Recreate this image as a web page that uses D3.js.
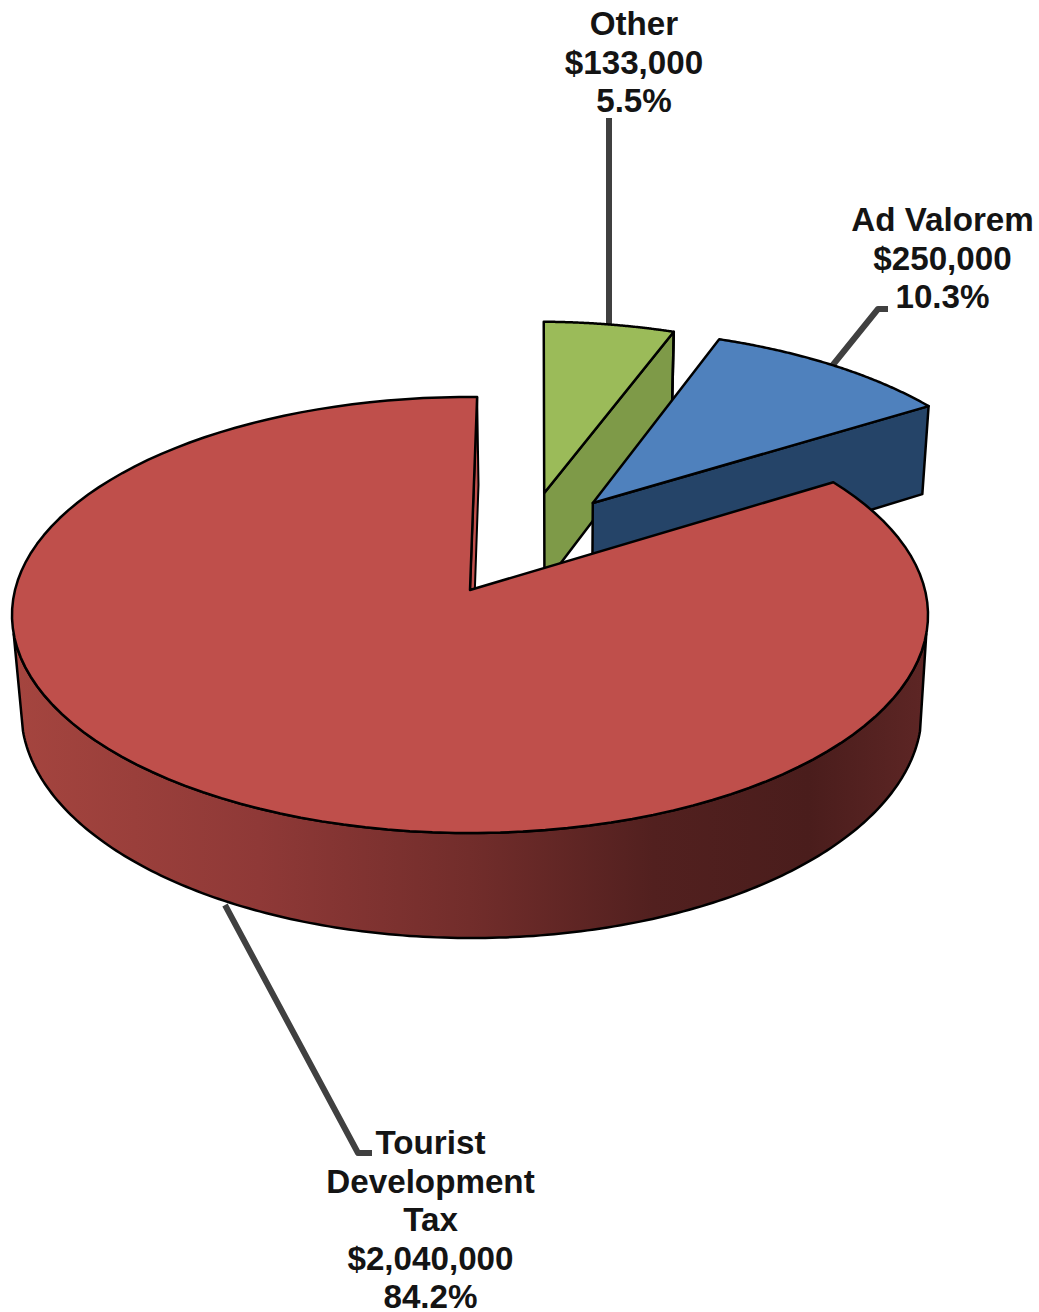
<!DOCTYPE html>
<html><head><meta charset="utf-8">
<script src="https://cdn.jsdelivr.net/npm/d3@7/dist/d3.min.js"></script>
<style>html,body{margin:0;padding:0;background:#fff}svg{display:block}</style>
</head><body><svg id="c" width="1039" height="1312"></svg>
<script>
const categories = ["Other", "Ad Valorem", "Tourist Development Tax"];
const categoryLines = [["Other"], ["Ad Valorem"], ["Tourist", "Development", "Tax"]];
const values = [133000, 250000, 2040000];
const topColors = ["#9BBB59", "#4F81BD", "#BF4F4B"];
const wallColors = ["#7E9A48", "#254468", "#8C3836"];
// layout (projection of the pie plane)
const W = 1039, H = 1312;
const cx = 470, apexY = 590, A = 455, B = 147.5, C = -0.1147;
const startDeg = 1;
const explodeU = [0.172, 0.283, 0], explodeV = [-0.475, -0.424, 0], radii = [0.98, 0.985, 1];
const labelX = [634, 942.5, 430.5], labelY = [35, 231, 1154], lineH = 38.6;
const silhouetteV = 0.2;
const leaders = [
  [[609,118],[609,325]],
  [[888,309],[878,309],[832,366]],
  [[372,1153],[358,1153],[225,905]]
];

const svg = d3.select("#c");
const total = d3.sum(values);
const rad = d => d * Math.PI / 180;
const pie = d3.pie().sort(null).startAngle(rad(startDeg)).endAngle(rad(startDeg + 360));
const arcs = pie(values);

// plane coords -> screen
const project = (u, v) => { const w = 1 + C * v; return [cx + A * u / w, (B * v + apexY) / w]; };
const drop = ([x, y]) => [cx + 1.5 + 0.983 * (x - cx), y + 88 + 0.0397 * (y - 405)];
const pt = (i, a, r) => project(explodeU[i] + r * Math.sin(a), explodeV[i] - r * Math.cos(a));
const rim = (i, a0, a1, n = 120) => d3.range(0, n + 1).map(k => pt(i, a0 + (a1 - a0) * k / n, radii[i]));

const line = d3.line().x(d => d[0]).y(d => d[1]);
const closed = pts => line(pts) + "Z";

const grad = svg.append("defs").append("linearGradient").attr("id", "redSide")
  .attr("gradientUnits", "userSpaceOnUse").attr("x1", 11).attr("x2", 928).attr("y1", 0).attr("y2", 0);
[[0,"#A5453F"],[0.27,"#8F3937"],[0.5,"#722D2B"],[0.7,"#52201F"],[0.87,"#4A1D1C"],[1,"#5E2625"]]
  .forEach(([o, c]) => grad.append("stop").attr("offset", o).attr("stop-color", c));

const draw = (d, fill, w = 2.5) => svg.append("path").attr("d", d).attr("fill", fill)
  .attr("stroke", "#000").attr("stroke-width", w).attr("stroke-linejoin", "round");

// leader lines beneath the pie
leaders.forEach(l => svg.append("path").attr("d", line(l)).attr("fill", "none")
  .attr("stroke", "#404040").attr("stroke-width", 6).attr("stroke-linejoin", "round"));

arcs.forEach((s, i) => {
  const apex = project(explodeU[i], explodeV[i]);
  const pts = rim(i, s.startAngle, s.endAngle);
  const last = pts[pts.length - 1];
  const first = pts[0];
  if (i < 2) {
    // the wall that faces the viewer: the slice's clockwise radial side
    draw(closed([apex, last, drop(last), drop(apex)]), wallColors[i]);
    if (i === 0) draw(line([last, drop(last)]), "none");
  } else {
    // sliver wall at the notch, then the visible front of the rim
    draw(closed([apex, last, drop(last), drop(apex)]), "#C0504D", 2);
    const a0 = Math.PI - Math.acos(silhouetteV);          // right silhouette
    const a1 = Math.PI + Math.acos(silhouetteV);          // left silhouette
    const front = rim(i, a0, a1, 200);
    draw(closed(front.concat(front.map(drop).reverse())), "url(#redSide)");
  }
  draw(closed([apex].concat(pts)), topColors[i]);
});

// labels
const money = d3.format("$,"), pct = d3.format(".1%");
arcs.forEach((s, i) => {
  const lines = categoryLines[i].concat([money(values[i]), pct(values[i] / total)]);
  lines.forEach((t, k) => svg.append("text")
    .attr("x", labelX[i]).attr("y", labelY[i] + k * lineH)
    .attr("text-anchor", "middle")
    .attr("font-family", "'Liberation Sans', Arial, sans-serif")
    .attr("font-weight", "bold").attr("font-size", 33.2).attr("fill", "#141414")
    .text(t));
});
</script></body></html>
